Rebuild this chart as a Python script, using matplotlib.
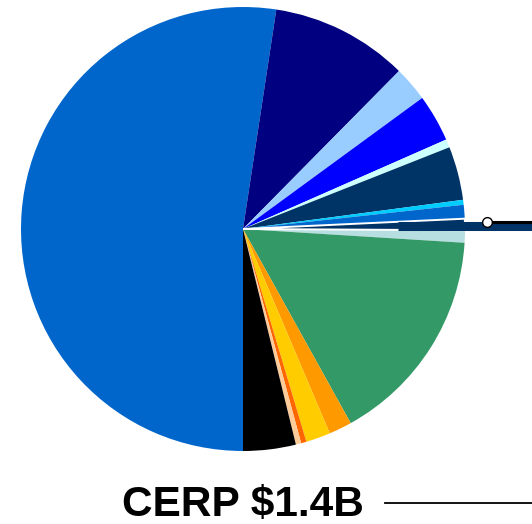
import matplotlib
matplotlib.use("Agg")
import matplotlib.pyplot as plt
import numpy as np
from matplotlib.lines import Line2D

plt.rcParams['font.family'] = ['Liberation Sans', 'DejaVu Sans']

# Slice shares (percent, clockwise from the bottom)
values = [52.4, 10.0, 2.55, 3.45, 0.6, 3.9, 0.36, 1.0, 0.83, 0.9,
          15.95, 1.67, 1.78, 0.39, 0.39, 3.83]
colors = ['#0066CC', '#000080', '#99CCFF', '#0000FF', '#CCFFFF', '#003366',
          '#00CCFF', '#0066CC', '#003366', '#B7DEE0', '#339966', '#FF9900',
          '#FFCC00', '#FF6600', '#FFCC99', '#000000']
highlight_index = 8
label_text = 'CERP $1.4B'

W, H = 532, 524
fig = plt.figure(figsize=(W / 100, H / 100), dpi=100)
cx, cy, R = 243, 229, 222
ax = fig.add_axes([(cx - R) / W, (H - cy - R) / H, 2 * R / W, 2 * R / H])

wedges, _ = ax.pie(values, colors=colors, startangle=270, counterclock=False,
                   radius=1.0, wedgeprops=dict(linewidth=0))
hw = wedges[highlight_index]
hw.set_edgecolor('white')
hw.set_linewidth(1.4)
hw.set_zorder(3)
for w in wedges:
    w.set_clip_on(False)

# pulled-out band of the highlighted slice
mid = np.deg2rad((hw.theta1 + hw.theta2) / 2)
r0 = 0.7
by = r0 * np.sin(mid)
ax.plot([r0 * np.cos(mid), 1.6], [by, by], color='#003366', lw=6.5,
        solid_capstyle='butt', clip_on=False, zorder=3.5)

ang = np.deg2rad(hw.theta2 - 1.0)
dx, dy = 1.1 * np.cos(ang), 1.1 * np.sin(ang)
ax.plot([dx, 1.6], [dy, dy], color='black', lw=2.2, clip_on=False, zorder=4,
        solid_capstyle='butt')
ax.plot([dx], [dy], marker='o', markersize=7, markerfacecolor='white',
        markeredgecolor='black', markeredgewidth=1.0, clip_on=False, zorder=5)

ax.set_xlim(-1, 1)
ax.set_ylim(-1, 1)
ax.set_aspect('equal')
ax.axis('off')

fig.text(122 / W, (H - 516) / H, label_text, fontsize=30.5, fontweight='bold',
         ha='left', va='baseline', color='black')
fig.add_artist(Line2D([385 / W, 1.02], [(H - 503) / H] * 2, color='black',
                      lw=1.3, transform=fig.transFigure))

fig.savefig('out.png', dpi=100)
